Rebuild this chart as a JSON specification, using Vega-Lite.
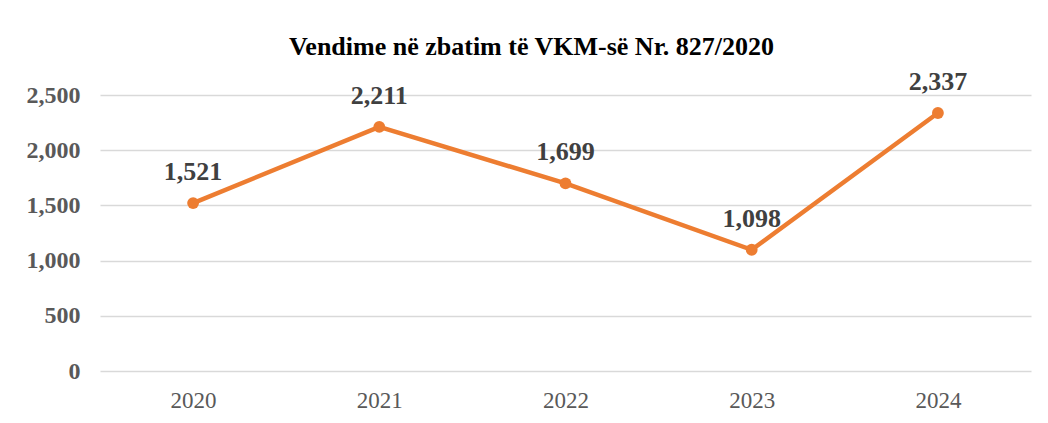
{
  "$schema": "https://vega.github.io/schema/vega-lite/v6.json",
  "autosize": "none",
  "width": 931,
  "height": 276,
  "padding": {"left": 100, "top": 95, "right": 17, "bottom": 52},
  "background": "white",
  "config": {"view": {"stroke": null}, "font": "Liberation Serif"},
  "title": {
    "text": "Vendime në zbatim të VKM-së Nr. 827/2020",
    "font": "Liberation Serif",
    "fontSize": 26,
    "fontWeight": "bold",
    "color": "#000000",
    "anchor": "middle",
    "frame": "group",
    "dx": -34,
    "offset": 9
  },
  "data": {
    "values": [
      {"year": "2020", "value": 1521},
      {"year": "2021", "value": 2211},
      {"year": "2022", "value": 1699},
      {"year": "2023", "value": 1098},
      {"year": "2024", "value": 2337}
    ]
  },
  "encoding": {
    "x": {
      "field": "year", "type": "ordinal",
      "scale": {"type": "point", "padding": 0.5},
      "axis": {
        "title": null, "labelAngle": 0, "domain": false, "ticks": false,
        "labelFont": "Liberation Serif", "labelFontSize": 23, "labelColor": "#595959",
        "labelPadding": 18
      }
    },
    "y": {
      "field": "value", "type": "quantitative",
      "scale": {"domain": [0, 2500]},
      "axis": {
        "title": null, "values": [0, 500, 1000, 1500, 2000, 2500],
        "labelExpr": "format(datum.value, ',')",
        "domain": false, "ticks": false, "gridColor": "#d9d9d9", "gridWidth": 1.5,
        "labelFont": "Liberation Serif", "labelFontSize": 24, "labelFontWeight": "bold",
        "labelColor": "#595959", "labelPadding": 20
      }
    }
  },
  "layer": [
    {"mark": {"type": "line", "color": "#ED7D31", "strokeWidth": 4.5}},
    {"mark": {"type": "point", "filled": true, "color": "#ED7D31", "size": 140, "opacity": 1}},
    {
      "mark": {"type": "text", "font": "Liberation Serif", "fontSize": 26, "fontWeight": "bold", "color": "#404040", "baseline": "bottom", "dy": -18},
      "encoding": {"text": {"field": "value", "type": "quantitative", "format": ","}}
    }
  ]
}
